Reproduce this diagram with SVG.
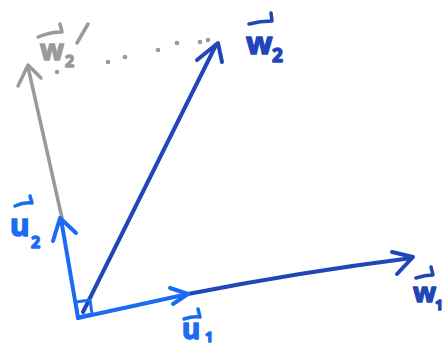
<svg xmlns="http://www.w3.org/2000/svg" width="445" height="349" viewBox="0 0 445 349">
<style>
.l{fill:none;stroke-linecap:round;stroke-linejoin:round}
.lb{stroke:#1b6cf2}
.db{stroke:#2146b8}
.gr{stroke:#9a9a9a}
.t{font-family:"Noto Sans","Liberation Sans",sans-serif;font-weight:bold;stroke-width:1.4;stroke-linejoin:round}
.tl{fill:#1b6cf2;stroke:#1b6cf2}
.td{fill:#2146b8;stroke:#2146b8}
.tg{fill:#9a9a9a;stroke:#9a9a9a}
</style>
<rect width="445" height="349" fill="#ffffff"/>
<g id="connectors">
  <g id="dots" fill="#9a9a9a">
    <circle cx="57" cy="72" r="2.3"/>
    <circle cx="108" cy="62" r="2.3"/>
    <circle cx="125" cy="57" r="2.3"/>
    <circle cx="158" cy="50" r="2.3"/>
    <circle cx="177" cy="43" r="2.3"/>
    <circle cx="200" cy="42" r="2.3"/>
    <circle cx="208" cy="40" r="2.3"/>
  </g>
  <g id="w2prime-arrow">
    <path class="l gr" stroke-width="3.5" d="M62 218 L28 67"/>
    <path class="l gr" stroke-width="3.5" d="M18 86 L28 65 L41 78"/>
  </g>
  <g id="w1-arrow">
    <path class="l db" stroke-width="4" d="M188 294 Q300 272 412 258"/>
    <path class="l db" stroke-width="4" d="M392 252 L413 257 L397 274"/>
  </g>
  <g id="w2-arrow">
    <path class="l db" stroke-width="4" d="M83 312 L216 45"/>
    <path class="l db" stroke-width="4" d="M197 60 L218 43 L222 62"/>
  </g>
  <g id="u1-arrow">
    <path class="l lb" stroke-width="4" d="M78 318 L188 294"/>
    <path class="l lb" stroke-width="4" d="M170 288 L188 294 L173 304"/>
  </g>
  <g id="u2-arrow">
    <path class="l lb" stroke-width="4" d="M78 318 L61 219"/>
    <path class="l lb" stroke-width="4" d="M53 241 L60 218 L76 233"/>
  </g>
  <g id="right-angle">
    <path class="l lb" stroke-width="3" d="M78 317 L92 314 L90 300 L76 302 Z"/>
  </g>
</g>
<g id="label-w2prime">
  <path class="l gr" stroke-width="3.5" d="M38 37 Q50 32 62 32 L60 24"/>
  <text class="t tg" x="40" y="60" font-size="28">w</text>
  <text class="t tg" x="65" y="67" font-size="16">2</text>
  <path class="l gr" stroke-width="3.5" d="M77 43 L88 24"/>
</g>
<g id="label-w2">
  <path class="l db" stroke-width="3.5" d="M249 24 Q260 21 272 21 L271 13"/>
  <text class="t td" x="246" y="54" font-size="31">w</text>
  <text class="t td" x="272" y="62" font-size="19">2</text>
</g>
<g id="label-u2">
  <path class="l lb" stroke-width="3.5" d="M15 206 Q24 202 32 203 L30 196"/>
  <text class="t tl" x="10" y="236" font-size="30">u</text>
  <text class="t tl" x="31" y="248" font-size="16">2</text>
</g>
<g id="label-u1">
  <path class="l lb" stroke-width="3.5" d="M184 319 Q193 316 200 317 L198 309"/>
  <text class="t tl" x="182" y="339" font-size="28">u</text>
  <text class="t tl" x="205" y="342" font-size="14">1</text>
</g>
<g id="label-w1">
  <path class="l db" stroke-width="3.5" d="M416 278 Q425 275 433 275 L431 267"/>
  <text class="t td" x="413" y="302" font-size="27">w</text>
  <text class="t td" x="435" y="310" font-size="14">1</text>
</g>
</svg>
